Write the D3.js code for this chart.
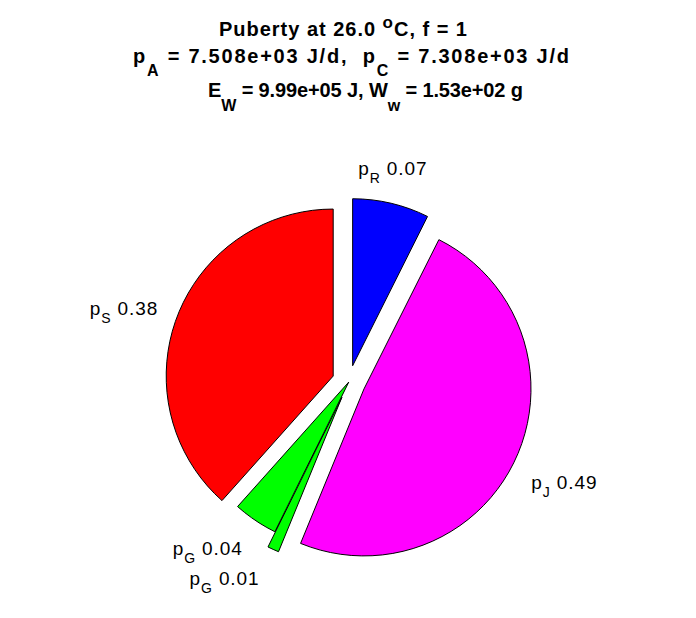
<!DOCTYPE html>
<html><head><meta charset="utf-8">
<script src="https://cdn.jsdelivr.net/npm/d3@7/dist/d3.min.js"></script>
<style>body{margin:0;background:#fff}svg{display:block}</style></head>
<body><svg id="c" width="696" height="618"></svg>
<script>
// ---- data ----
const sliceNames = ["p", "p", "p", "p", "p"];
const sliceSubs  = ["R", "J", "G", "G", "S"];
const values     = [0.074, 0.488, 0.011, 0.043, 0.384];
const explode    = [1, 1, 1, 0, 1];
const colors     = ["#0000ff", "#ff00ff", "#00ff00", "#00ff00", "#ff0000"];
// title segments: s = 0 normal, 1 superscript, -1 subscript
const title1 = [{t:"Puberty at 26.0 ", s:0}, {t:"o", s:1}, {t:"C, f = 1", s:0}];
const title2 = [{t:"p", s:0}, {t:"A", s:-1}, {t:" = 7.508e+03 J/d,  p", s:0}, {t:"C", s:-1}, {t:" = 7.308e+03 J/d", s:0}];
const title3 = [{t:"E", s:0}, {t:"W", s:-1}, {t:" = 9.99e+05 J, W", s:0}, {t:"w", s:-1}, {t:" = 1.53e+02 g", s:0}];

// ---- layout ----
const W = 696, H = 618;
const cx = 348.8, cy = 382, R = 167;
const labelNudge = [[-6,4],[18,17],[-35,5],[-29,7],[-22,10]];
const titleLayout = [
  {lines: title1, left: 219, right: 467, y: 35.7, subDy: 0, supDy: -7.4},
  {lines: title2, left: 133, right: 569, y: 63.3, subDy: 13, supDy: 0},
  {lines: title3, left: 208, right: 523, y: 96.7, subDy: 14, supDy: 0}
];
const FONT = "'Liberation Sans', Arial, Helvetica, sans-serif";

const svg = d3.select("#c");
svg.append("rect").attr("width", W).attr("height", H).attr("fill", "#fff");

const r = d3.scaleLinear().domain([0, 1]).range([0, R]);
const pie = d3.pie().sort(null).startAngle(0).endAngle(2 * Math.PI);
const arcs = pie(values);

const g = svg.append("g").attr("transform", `translate(${cx},${cy})`);
const radial = d3.lineRadial()
  .angle(d => d[0]).radius(d => r(d[1])).curve(d3.curveLinearClosed);

arcs.forEach((d, i) => {
  const frac = (d.endAngle - d.startAngle) / (2 * Math.PI);
  const n = Math.max(1, Math.ceil(100 * frac));
  const pts = [[d.startAngle, 0]];
  for (let k = 0; k <= n; k++) pts.push([d.startAngle + (d.endAngle - d.startAngle) * k / n, 1]);
  pts.push([d.endAngle, 0]);
  const mid = (d.startAngle + d.endAngle) / 2;
  const off = explode[i] ? 0.1 : 0;
  const ox = r(off) * Math.sin(mid), oy = -r(off) * Math.cos(mid);
  g.append("path")
    .attr("transform", `translate(${ox},${oy})`)
    .attr("d", radial(pts))
    .attr("fill", colors[i])
    .attr("stroke", "#000")
    .attr("stroke-width", 1)
    .attr("stroke-linejoin", "miter");

  const rl = 1.2 + off;
  const lx = r(rl) * Math.sin(mid) + labelNudge[i][0];
  const ly = -r(rl) * Math.cos(mid) + labelNudge[i][1];
  const t = g.append("text")
    .attr("x", lx).attr("y", ly)
    .attr("text-anchor", "middle")
    .attr("font-family", FONT)
    .attr("font-size", 19)
    .attr("letter-spacing", 0.9)
    .attr("fill", "#000");
  t.append("tspan").text(sliceNames[i]);
  t.append("tspan").attr("font-size", 14).attr("dy", 8).text(sliceSubs[i]);
  t.append("tspan").attr("dy", -8).text(" " + d.data.toFixed(2));
});

// titles: natural glyphs at 20px, spacing fitted to the reference line extents
titleLayout.forEach(L => {
  const t = svg.append("text")
    .attr("x", L.left).attr("y", L.y)
    .attr("font-family", FONT)
    .attr("font-weight", "bold")
    .attr("font-size", 20)
    .attr("fill", "#000")
    .style("white-space", "pre");
  let cur = 0, nch = 0;
  L.lines.forEach(seg => {
    const sp = t.append("tspan").text(seg.t);
    nch += seg.t.length;
    let target = 0, size = 20;
    if (seg.s === -1) { target = L.subDy; size = 16; }
    if (seg.s === 1) { target = L.supDy; size = 17; }
    sp.attr("font-size", size);
    if (target !== cur) { sp.attr("dy", target - cur); cur = target; }
  });
  const w = t.node().getBBox().width;
  const ls = ((L.right - L.left) - w) / Math.max(1, nch - 1);
  t.attr("letter-spacing", ls);
  const bb = t.node().getBBox();
  t.attr("x", L.left - (bb.x - L.left));
});
</script>
</body></html>
